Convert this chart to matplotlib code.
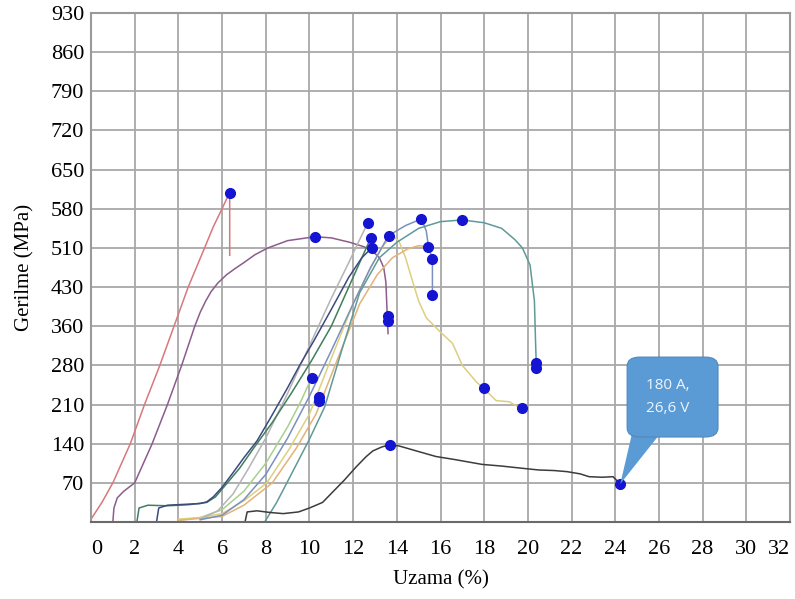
import numpy as np
import matplotlib
matplotlib.use('Agg')
import matplotlib.pyplot as plt
from matplotlib.patches import FancyBboxPatch, Polygon

plt.rcParams['font.family'] = ['Liberation Serif', 'DejaVu Serif']

# axis ticks (y labels are unevenly spaced but the grid is even)
stress_ticks = [0, 70, 140, 210, 280, 360, 430, 510, 580, 650, 720, 790, 860, 930]
strain_ticks = list(range(0, 33, 2))

# curves: strain (%) / stress (MPa)
red_x = [0.0, 0.5, 1.0, 1.4, 1.8, 2.45, 3.15, 3.8, 4.45, 5.2, 5.6, 6.0, 6.2, 6.35, 6.35]
red_y = [5, 35, 70, 105, 140, 210, 280, 360, 430, 510, 548, 580, 597, 608, 495]

purple_x = [1.0, 1.05, 1.2, 1.5, 2.0, 2.8, 3.5, 4.15, 4.75, 5.0, 5.25, 5.5, 5.8, 6.2, 6.6, 7.0, 7.5, 8.1, 9.0,
            10.24, 11.0, 11.85, 12.5, 12.9, 13.2, 13.4, 13.5, 13.55, 13.6]
purple_y = [0, 25, 43, 55, 70, 140, 210, 280, 360, 385, 405, 422, 438, 455, 468, 480, 496, 510, 523,
            530, 528, 520, 512, 503, 490, 470, 440, 390, 345]

black_x = [7.05, 7.15, 7.6, 8.2, 8.8, 9.5, 10.0, 10.6, 11.1, 11.6, 12.15, 12.6, 12.9, 13.3, 13.67,
           14.1, 14.9, 15.8, 16.6, 17.9, 18.8, 19.75, 20.5, 21.2, 21.8, 22.4, 22.8, 23.4, 23.9, 24.23]
black_y = [0, 18, 20, 17, 15, 18, 25, 35, 55, 75, 99, 117, 127, 134, 138,
           136, 127, 117, 112, 103, 100, 96, 93, 92, 90, 86, 81, 80, 81, 68]

navy_x = [3.0, 3.1, 3.5, 4.0, 4.5, 5.0, 5.3, 5.6, 6.0, 6.5, 7.0, 7.6, 8.2, 9.0, 9.55, 10.2, 11.0, 11.8, 12.4, 12.85]
navy_y = [0, 25, 30, 31, 32, 33, 36, 45, 62, 88, 115, 145, 185, 240, 280, 330, 390, 450, 490, 510]

green_x = [2.1, 2.2, 2.6, 3.5, 4.5, 5.3, 5.7, 6.2, 6.8, 7.5, 8.3, 9.2, 10.1, 11.0, 11.8, 12.4, 12.8]
green_y = [0, 25, 30, 29, 31, 35, 45, 68, 96, 135, 178, 232, 290, 360, 430, 490, 527]

gray_x = [5.0, 5.8, 6.5, 7.2, 8.0, 9.0, 10.0, 11.0, 11.8, 12.3, 12.66]
gray_y = [5, 20, 50, 95, 150, 230, 320, 410, 480, 525, 554]

lgreen_x = [4.0, 5.0, 6.0, 7.0, 8.0, 9.0, 9.6, 10.1]
lgreen_y = [3, 8, 22, 55, 105, 170, 215, 258]

yellow_x = [4.0, 5.0, 6.0, 7.0, 8.05, 9.1, 10.0, 11.05, 12.0, 12.8, 13.4, 13.8, 14.1, 14.4, 14.7, 15.0, 15.35,
            15.95, 16.55, 17.0, 17.65, 17.97, 18.55, 19.15, 19.5, 19.75]
yellow_y = [5, 8, 15, 38, 70, 132, 193, 300, 400, 470, 515, 532, 522, 490, 445, 405, 375,
            350, 325, 280, 250, 239, 217, 215, 207, 204]

orange_x = [4.0, 6.0, 7.0, 8.3, 9.4, 10.3, 11.35, 12.3, 13.1, 13.8, 14.5, 15.0, 15.45]
orange_y = [3, 10, 30, 70, 132, 193, 300, 400, 455, 490, 508, 514, 512]

bluegray_x = [5.0, 6.0, 7.0, 8.0, 9.0, 10.0, 11.0, 12.0, 12.8, 13.62, 14.4, 15.13, 15.35, 15.45, 15.63, 15.63]
bluegray_y = [4, 12, 40, 85, 150, 225, 310, 400, 470, 532, 550, 562, 540, 512, 487, 415]

teal_x = [7.95, 8.5, 9.1, 10.0, 10.7, 11.5, 12.3, 13.2, 14.0, 15.0, 16.0, 17.0, 18.0, 18.8,
          19.4, 19.75, 20.1, 20.3, 20.35, 20.39]
teal_y = [0, 35, 80, 148, 206, 314, 420, 490, 520, 545, 557, 560, 555, 545,
          525, 510, 475, 405, 330, 275]

curves = [
    (red_x, red_y, '#d8787c'),
    (purple_x, purple_y, '#8c5c8c'),
    (lgreen_x, lgreen_y, '#a8d08c'),
    (yellow_x, yellow_y, '#dccf80'),
    (orange_x, orange_y, '#e3b27a'),
    (gray_x, gray_y, '#b4b4b4'),
    (bluegray_x, bluegray_y, '#7b90c0'),
    (teal_x, teal_y, '#5f9a98'),
    (green_x, green_y, '#3f7f5f'),
    (navy_x, navy_y, '#3c4a7c'),
    (black_x, black_y, '#3c3c3c'),
]

# blue markers
dot_x = [6.35, 10.24, 12.66, 12.8, 12.85, 13.62, 15.13, 17.0, 15.45, 15.63, 15.63, 13.58, 13.58,
         10.1, 10.42, 10.42, 13.67, 20.39, 20.39, 17.97, 19.75, 24.23]
dot_y = [608, 530, 554, 527, 510, 532, 562, 560, 512, 487, 415, 379, 369,
         258, 223, 216, 138, 285, 275, 239, 204, 68]

callout_text = '180 A,\n26,6 V'
callout_x, callout_y = 24.23, 68

grid_idx = np.arange(len(stress_ticks))


def fwd(v):
    return np.interp(v, stress_ticks, grid_idx)


def inv(p):
    return np.interp(p, grid_idx, stress_ticks)


fig = plt.figure(figsize=(7.95, 5.99), dpi=100)
ax = fig.add_axes([91 / 795, 1 - 522 / 599, 699 / 795, 509 / 599])
ax.set_yscale('function', functions=(fwd, inv))
ax.set_xlim(0, 32)
ax.set_ylim(0, 930)

ax.set_xticks(strain_ticks)
ax.set_yticks(stress_ticks[1:])
ax.tick_params(axis='both', length=0, labelsize=16)
ax.tick_params(axis='x', pad=13)
ax.tick_params(axis='y', pad=5)
ax.grid(True, color='#a8a8a8', lw=1.3)
ax.set_axisbelow(True)
for side in ['top', 'right', 'left']:
    ax.spines[side].set_color('#9a9a9a')
    ax.spines[side].set_linewidth(1.5)
ax.spines['bottom'].set_color('#6a6a6a')
ax.spines['bottom'].set_linewidth(1.5)

for cx, cy, col in curves:
    ax.plot(cx, cy, color=col, lw=1.1)

ax.plot(dot_x, dot_y, 'o', color='#1414d2', ms=7, zorder=5)

ax.set_xlabel('Uzama (%)', fontsize=15, labelpad=8)
ax.set_ylabel('Gerilme (MPa)', fontsize=15, labelpad=12)

# callout box with tail pointing at the last marker
fig.canvas.draw()
xlabels = ax.get_xticklabels()
xlabels[0].set_horizontalalignment('left')
xlabels[-1].set_horizontalalignment('right')

tip = ax.transAxes.inverted().transform(ax.transData.transform((callout_x, callout_y)))
box_col = '#5b9bd5'
tail = Polygon([(0.775, 0.18), (0.818, 0.18), tip], closed=True, transform=ax.transAxes,
               facecolor=box_col, edgecolor='none', zorder=6)
ax.add_patch(tail)
box = FancyBboxPatch((0.767, 0.167), 0.13, 0.157, boxstyle='round,pad=0,rounding_size=0.018',
                     transform=ax.transAxes, facecolor=box_col, edgecolor='#4f88bd', lw=0.8, zorder=7)
ax.add_patch(box)
ax.text(0.825, 0.246, callout_text, transform=ax.transAxes, ha='center', va='center',
        color='#f0f4fa', fontsize=11, family=['Open Sans', 'DejaVu Sans'], linespacing=1.7, zorder=8)

fig.savefig('out.png', dpi=100)
